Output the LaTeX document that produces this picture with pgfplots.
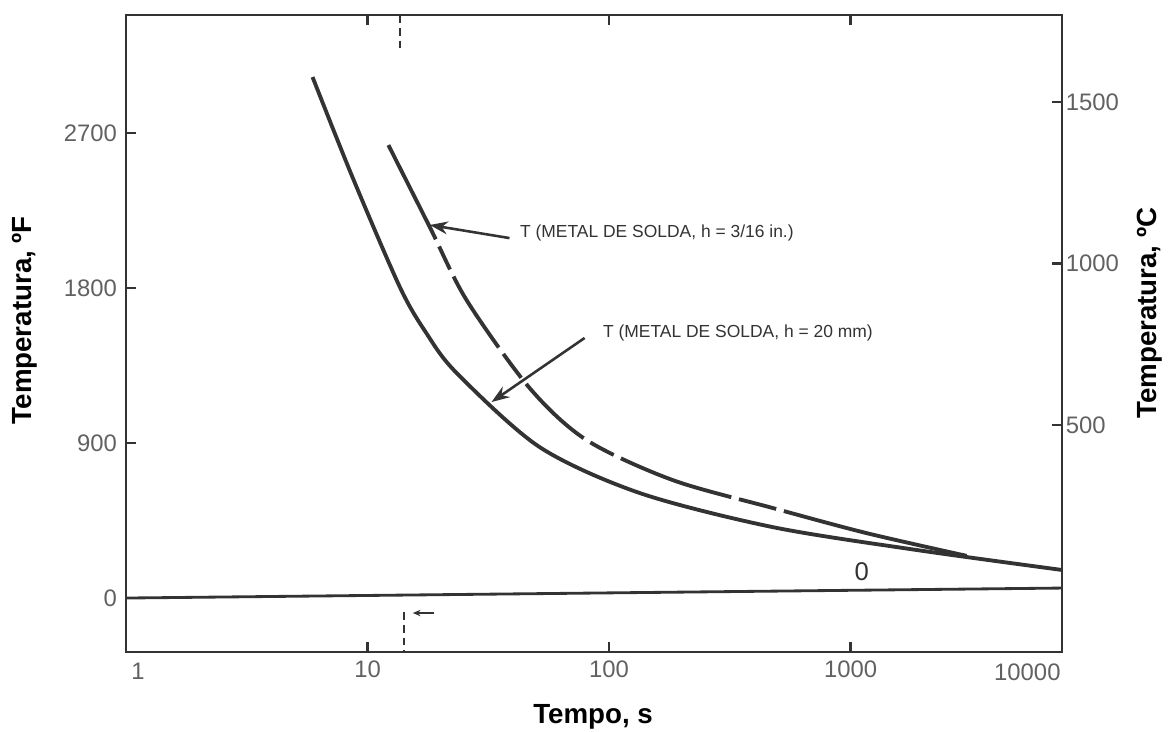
\documentclass[border=0pt]{standalone}
\usepackage{fontspec}
\setmainfont{Liberation Sans}
\usepackage{pgfplots}
\pgfplotsset{compat=1.18}
\usetikzlibrary{arrows.meta}

\definecolor{ink}{gray}{0.2}
\definecolor{ticktxt}{gray}{0.38}

\begin{document}
\begin{tikzpicture}
\begin{axis}[
  at={(0,0)}, anchor=south west,
  scale only axis, width=12.822cm, height=8.726cm,
  xmode=log, xmin=1, xmax=7500,
  ymin=-313.5, ymax=3385,
  axis line style={ink, line width=1.1pt},
  tick align=inside, major tick length=0.14cm, minor tick length=0pt,
  tick style={ink, line width=0.9pt},
  ticklabel style={font=\fontsize{9.3}{11}\selectfont, text=ticktxt},
  /pgf/number format/assume math mode=true,
  label style={font=\fontsize{10.8}{12}\selectfont\bfseries, text=black},
  clip=false,
  xtick={10,100,1000}, xticklabels={10,100,1000},
  ytick={0,900,1800,2700}, yticklabels={0,900,1800,2700},
  ytick pos=left,
  xlabel={Tempo, s},
  xlabel style={at={(rel axis cs:0.499,-0.102)}, anchor=center},
  ylabel={Temperatura, ºF},
  ylabel style={at={(rel axis cs:-0.108,0.521)}, anchor=center},
]
% linha de 0 F (levemente inclinada como no original)
\addplot[ink, line width=1.1pt] coordinates {(1,0) (7500,58)};

% h = 20 mm (continua)
\addplot[ink, line width=1.5pt, smooth] coordinates {
  (5.92,3025) (8.66,2444) (13.6,1806) (17.5,1539) (23.4,1306) (51.5,877)
  (133.7,610) (475,412) (1876,279) (7500,163)};

% h = 3/16 in. (tracejada, trecho final continuo)
\addplot[ink, line width=1.5pt, smooth,
  dash pattern=on 41.1pt off 3.1pt on 9.9pt off 3.1pt on 32.8pt off 3.1pt
    on 11.6pt off 3.1pt on 30.9pt off 3.1pt on 10.3pt off 3.1pt
    on 45.7pt off 3.1pt on 15pt off 3.1pt on 600pt off 1pt] coordinates {
  (12.2,2630) (18.1,2154) (25.7,1730) (46.9,1219) (80.7,917)
  (183.3,685) (475,523) (1164,377) (3020,245)};

% rotulos dos extremos do eixo x
\node[text=ticktxt, font=\fontsize{9.3}{11}\selectfont]
  at (rel axis cs:0.0128,-0.031) {1};
\node[text=ticktxt, font=\fontsize{9.3}{11}\selectfont]
  at (rel axis cs:0.963,-0.031) {10000};

% setas e textos
\draw[ink, line width=1pt, -{Stealth[length=7pt,width=5pt]}]
  (axis cs:38.7,2090) -- (axis cs:18.1,2166);
\node[anchor=west, inner sep=0, text=ink, font=\fontsize{6.8}{8}\selectfont]
  at (axis cs:42.6,2119) {T (METAL DE SOLDA, h = 3/16 in.)};
\draw[ink, line width=1pt, -{Stealth[length=7pt,width=5pt]}]
  (axis cs:79.2,1510) -- (axis cs:32.6,1138);
\node[anchor=west, inner sep=0, text=ink, font=\fontsize{6.8}{8}\selectfont]
  at (axis cs:94.0,1539) {T (METAL DE SOLDA, h = 20 mm)};
\node[text=ink, inner sep=0, font=\fontsize{10}{12}\selectfont]
  at (axis cs:1111,151) {0};

% marcas tracejadas
\draw[ink, line width=0.8pt, dash pattern=on 3pt off 2pt]
  (axis cs:13.6,3385) -- (axis cs:13.6,3182);
\draw[ink, line width=0.8pt, dash pattern=on 3pt off 2pt]
  (axis cs:14.2,-81) -- (axis cs:14.2,-313.5);
\draw[ink, line width=0.8pt, -{Stealth[length=3pt,width=2.5pt]}]
  (axis cs:18.9,-87) -- (axis cs:15.4,-87);
\end{axis}

\begin{axis}[
  at={(0,0)}, anchor=south west,
  scale only axis, width=12.822cm, height=8.726cm,
  xmode=log, xmin=1, xmax=7500,
  ymin=-203, ymax=1769,
  axis x line=none, axis y line*=right,
  axis line style={ink, line width=1.1pt},
  tick align=inside, major tick length=0.14cm, minor tick length=0pt,
  tick style={ink, line width=0.9pt},
  ticklabel style={font=\fontsize{9.3}{11}\selectfont, text=ticktxt},
  /pgf/number format/assume math mode=true,
  label style={font=\fontsize{10.8}{12}\selectfont\bfseries, text=black},
  ytick={500,1000,1500}, yticklabels={500,1000,1500},
  yticklabel style={xshift=-2pt},
  ylabel={Temperatura, ºC},
  ylabel style={at={(rel axis cs:1.094,0.532)}, anchor=center},
]
\addplot[draw=none] coordinates {(10,500)};
\end{axis}
\pgfresetboundingbox
\useasboundingbox (-1.726,-1.082) rectangle (14.274,8.932);
\end{tikzpicture}
\end{document}
